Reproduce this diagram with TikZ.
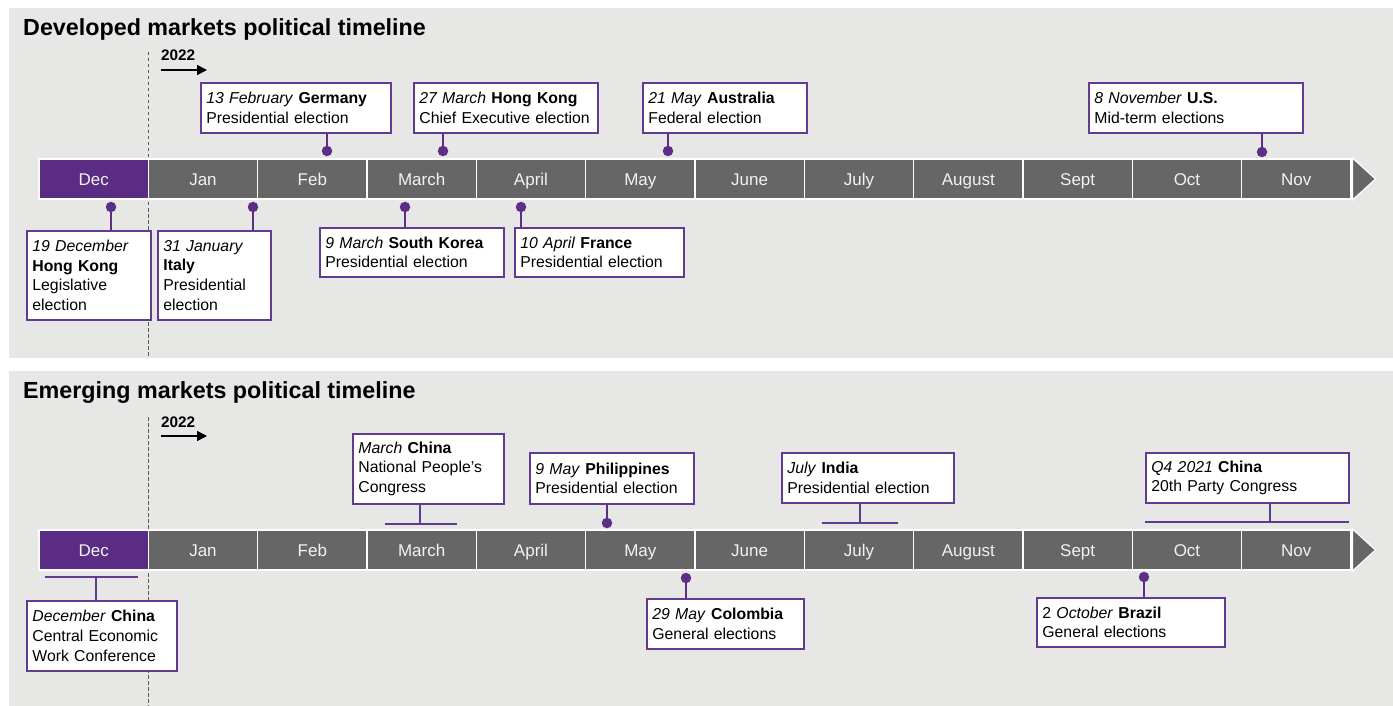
\documentclass[tikz,border=0pt]{standalone}
\usepackage{fontspec}
\setmainfont{Liberation Sans}
\usetikzlibrary{calc,arrows.meta}
\definecolor{bgc}{RGB}{231,231,230}
\definecolor{decpurple}{RGB}{91,44,131}
\definecolor{boxpurple}{RGB}{98,58,146}
\definecolor{dotpurple}{RGB}{94,46,134}
\definecolor{cellgray}{RGB}{102,102,102}
\definecolor{monthtext}{RGB}{242,242,242}
\definecolor{dashgray}{RGB}{90,90,90}
\begin{document}
\begin{tikzpicture}[x=1pt,y=-1pt,
  cell/.style={draw=white, line width=1.6pt, fill=cellgray, minimum width=109.33pt, minimum height=40pt, inner sep=0pt, text height=13pt, text depth=0pt, text=monthtext, font=\fontsize{17}{20}\selectfont},
  evbox/.style={draw=boxpurple, line width=1.8pt, fill=white, align=left, anchor=north west, inner xsep=5.5pt, inner ysep=0pt, font=\fontsize{15.8}{19.7}\selectfont},
  dot/.style={circle, fill=dotpurple, inner sep=0pt, minimum size=10.5pt},
  conn/.style={draw=dotpurple, line width=2pt},
  rangeline/.style={draw=boxpurple, line width=2pt},
  ttl/.style={anchor=base west, inner sep=0pt, font=\bfseries\fontsize{23.3}{27}\selectfont},
  yr/.style={anchor=base west, inner sep=0pt, font=\bfseries\fontsize{15.3}{18}\selectfont},
  yrarrow/.style={line width=1.6pt, -{Triangle[length=10pt,width=10pt]}},
  divider/.style={draw=dashgray, line width=1pt, dash pattern=on 3.5pt off 2.5pt}
]
\useasboundingbox (0,0) rectangle (1393,706);
\fill[white] (0,0) rectangle (1393,706);
\fill[bgc] (9,8) rectangle (1393,358);
\fill[bgc] (9,371) rectangle (1393,706);

% ---------------- Developed markets ----------------
\node[ttl] (t1) at (23,36) {Developed markets political timeline};
\coordinate (d1a) at (148,52);
\coordinate (d1b) at (148,358);
\draw[divider] (d1a) -- (d1b);
\node[yr] (y1) at (161,61) {2022};
\coordinate (y1a) at (161,70);
\coordinate (y1b) at (207,70);
\draw[yrarrow] (y1a) -- (y1b);

\node[cell, fill=decpurple] (dm0) at (93.67,179) {Dec};
\foreach \m [count=\i] in {Jan,Feb,March,April,May,June,July,August,Sept,Oct,Nov}{
  \node[cell] (dm\i) at (93.67+109.33*\i,179) {\m};
}
\fill[cellgray, draw=white, line width=1.2pt] (1352.5,158) -- (1375.5,179) -- (1352.5,200) -- cycle;

% events above
\node[evbox, text width=179pt, minimum height=50pt] (ger) at (200,82) {\textit{13 February} \textbf{Germany}\\Presidential election};
\node[evbox, text width=173pt, minimum height=50pt] (hkce) at (413,82) {\textit{27 March} \textbf{Hong Kong}\\Chief Executive election};
\node[evbox, text width=153pt, minimum height=50pt] (aus) at (642,82) {\textit{21 May} \textbf{Australia}\\Federal election};
\node[evbox, text width=203pt, minimum height=50pt] (us) at (1088,82) {\textit{8 November} \textbf{U.S.}\\Mid-term elections};
% events below
\node[evbox, text width=113pt, minimum height=89pt] (hkleg) at (26,230) {\textit{19 December}\\\textbf{Hong Kong}\\Legislative\\election};
\node[evbox, text width=102pt, minimum height=89pt] (ita) at (157,230) {\textit{31 January}\\\textbf{Italy}\\Presidential\\election};
\node[evbox, text width=173pt, minimum height=49pt] (kor) at (319,227) {\textit{9 March} \textbf{South Korea}\\Presidential election};
\node[evbox, text width=158pt, minimum height=49pt] (fra) at (514,227) {\textit{10 April} \textbf{France}\\Presidential election};

\node[dot] (dger) at (327,151) {};
\node[dot] (dhkce) at (443,151) {};
\node[dot] (daus) at (668,151) {};
\node[dot] (dus) at (1262,152) {};
\node[dot] (dhkleg) at (111,207) {};
\node[dot] (dita) at (253,207) {};
\node[dot] (dkor) at (405,207) {};
\node[dot] (dfra) at (521,207) {};
\draw[conn] (dger.center) -- (dger.center |- ger.south);
\draw[conn] (dhkce.center) -- (dhkce.center |- hkce.south);
\draw[conn] (daus.center) -- (daus.center |- aus.south);
\draw[conn] (dus.center) -- (dus.center |- us.south);
\draw[conn] (dhkleg.center) -- (dhkleg.center |- hkleg.north);
\draw[conn] (dita.center) -- (dita.center |- ita.north);
\draw[conn] (dkor.center) -- (dkor.center |- kor.north);
\draw[conn] (dfra.center) -- (dfra.center |- fra.north);

% ---------------- Emerging markets ----------------
\node[ttl] (t2) at (23,398) {Emerging markets political timeline};
\coordinate (d2a) at (148,417);
\coordinate (d2b) at (148,706);
\draw[divider] (d2a) -- (d2b);
\node[yr] (y2) at (161,427) {2022};
\coordinate (y2a) at (161,436);
\coordinate (y2b) at (207,436);
\draw[yrarrow] (y2a) -- (y2b);

\node[cell, fill=decpurple] (em0) at (93.67,550) {Dec};
\foreach \m [count=\i] in {Jan,Feb,March,April,May,June,July,August,Sept,Oct,Nov}{
  \node[cell] (em\i) at (93.67+109.33*\i,550) {\m};
}
\fill[cellgray, draw=white, line width=1.2pt] (1352.5,529) -- (1375.5,550) -- (1352.5,571) -- cycle;

% events above
\node[evbox, text width=140pt, minimum height=70pt] (cmar) at (352,433) {\textit{March} \textbf{China}\\National People’s\\Congress};
\node[evbox, text width=153pt, minimum height=51pt] (phi) at (529,452) {\textit{9 May} \textbf{Philippines}\\Presidential election};
\node[evbox, text width=161pt, minimum height=50pt] (ind) at (781,452) {\textit{July} \textbf{India}\\Presidential election};
\node[evbox, text width=192pt, minimum height=50pt] (cq4) at (1145,452) {\textit{Q4 2021} \textbf{China}\\20th Party Congress};
% events below
\node[evbox, text width=139pt, minimum height=70pt] (cdec) at (26,600) {\textit{December} \textbf{China}\\Central Economic\\Work Conference};
\node[evbox, text width=146pt, minimum height=50pt] (col) at (646,598) {\textit{29 May} \textbf{Colombia}\\General elections};
\node[evbox, text width=177pt, minimum height=49pt] (bra) at (1036,597) {2 \textit{October} \textbf{Brazil}\\General elections};

\node[dot] (dphi) at (607,523) {};
\node[dot] (dcol) at (686,578) {};
\node[dot] (dbra) at (1144,577) {};
\draw[conn] (dphi.center) -- (dphi.center |- phi.south);
\draw[conn] (dcol.center) -- (dcol.center |- col.north);
\draw[conn] (dbra.center) -- (dbra.center |- bra.north);

% ranges
\coordinate (rm1) at (385,524);
\coordinate (rm2) at (457,524);
\coordinate (rmv) at (420,524);
\draw[rangeline] (rm1) -- (rm2);
\draw[rangeline] (rmv) -- (rmv |- cmar.south);
\coordinate (ri1) at (822,523);
\coordinate (ri2) at (898,523);
\coordinate (riv) at (860,523);
\draw[rangeline] (ri1) -- (ri2);
\draw[rangeline] (riv) -- (riv |- ind.south);
\coordinate (rq1) at (1145,522);
\coordinate (rq2) at (1349,522);
\coordinate (rqv) at (1270,522);
\draw[rangeline] (rq1) -- (rq2);
\draw[rangeline] (rqv) -- (rqv |- cq4.south);
\coordinate (rd1) at (45,577);
\coordinate (rd2) at (138,577);
\coordinate (rdv) at (96,577);
\draw[rangeline] (rd1) -- (rd2);
\draw[rangeline] (rdv) -- (rdv |- cdec.north);
\end{tikzpicture}
\end{document}
